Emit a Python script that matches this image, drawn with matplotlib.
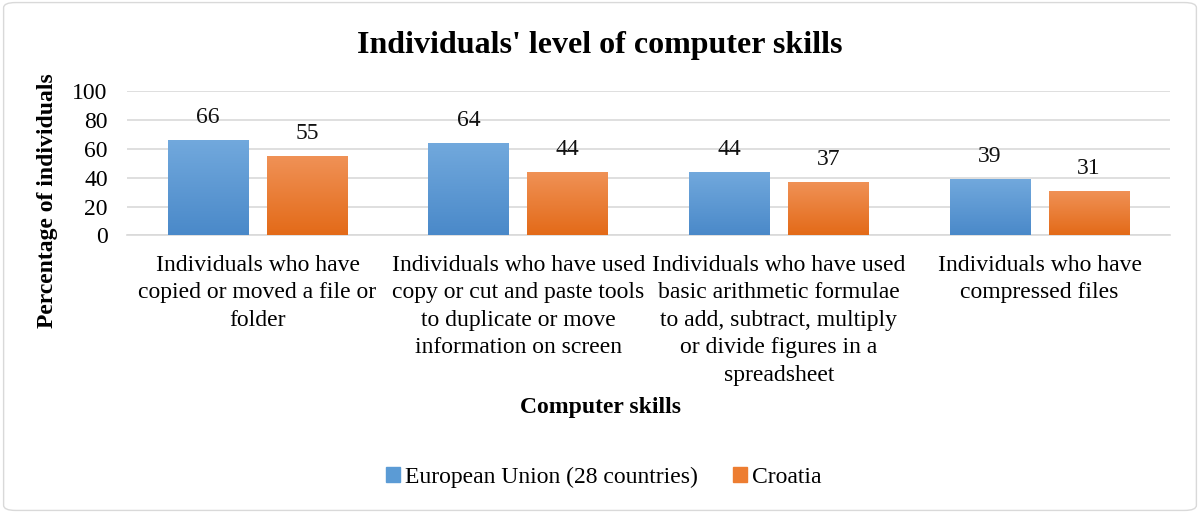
import numpy as np
import matplotlib.pyplot as plt
from matplotlib.patches import FancyBboxPatch
from matplotlib.colors import LinearSegmentedColormap

plt.rcParams['font.family'] = ['Liberation Serif', 'DejaVu Serif']

# Data
categories = [
    "Individuals who have\ncopied or moved a file or\nfolder",
    "Individuals who have used\ncopy or cut and paste tools\nto duplicate or move\ninformation on screen",
    "Individuals who have used\nbasic arithmetic formulae\nto add, subtract, multiply\nor divide figures in a\nspreadsheet",
    "Individuals who have\ncompressed files",
]
eu_values = [66, 64, 44, 39]
hr_values = [55, 44, 37, 31]
series_names = ["European Union (28 countries)", "Croatia"]
y_ticks = [0, 20, 40, 60, 80, 100]

blue_grad = LinearSegmentedColormap.from_list("b", ["#4a89c9", "#72a9dd"])
orange_grad = LinearSegmentedColormap.from_list("o", ["#e36a18", "#f09257"])


def gradient_bars(ax, bars, cmap):
    grad = np.linspace(0, 1, 256).reshape(-1, 1)
    for b in bars:
        x0, y0 = b.get_x(), b.get_y()
        w, h = b.get_width(), b.get_height()
        im = ax.imshow(grad, extent=[x0, x0 + w, y0, y0 + h], origin='lower',
                       aspect='auto', cmap=cmap, zorder=3)
        im.set_clip_path(b)


fig = plt.figure(figsize=(12, 5.13), dpi=100)
ax = fig.add_axes([0.106, 0.541, 0.869, 0.282])

x = np.arange(len(categories))
w = 0.31
off = 0.19
b1 = ax.bar(x - off, eu_values, w, color="#5b9bd5", label=series_names[0], zorder=2)
b2 = ax.bar(x + off, hr_values, w, color="#ed7d31", label=series_names[1], zorder=2)
gradient_bars(ax, b1, blue_grad)
gradient_bars(ax, b2, orange_grad)

for bars, vals in [(b1, eu_values), (b2, hr_values)]:
    for b, v in zip(bars, vals):
        ax.annotate(str(v), (b.get_x() + b.get_width() / 2, v), xytext=(0, 8.5),
                    textcoords='offset points', ha='center', va='bottom',
                    fontsize=17, color='#111111')

ax.set_xlim(-0.5, len(categories) - 0.5)
ax.set_ylim(0, 100)
ax.set_yticks(y_ticks)
ax.set_xticks(x)
ax.set_xticklabels(categories, fontsize=17, linespacing=1.4, va='top')
ax.tick_params(axis='y', labelsize=17, length=0, pad=14)
ax.tick_params(axis='x', length=0, pad=14)
ax.grid(axis='y', color='#d9d9d9', linewidth=1.2, zorder=0)
ax.set_axisbelow(True)
for s in ['top', 'right', 'left']:
    ax.spines[s].set_visible(False)
ax.spines['bottom'].set_color('#d9d9d9')
ax.spines['bottom'].set_linewidth(1.2)

fig.text(0.5, 0.912, "Individuals' level of computer skills", ha='center', va='center',
         fontsize=23, fontweight='bold')
fig.text(0.5, 0.205, "Computer skills", ha='center', va='center', fontsize=17, fontweight='bold')
fig.text(0.0395, 0.608, "Percentage of individuals", ha='center', va='center',
         rotation=90, fontsize=17, fontweight='bold')

leg = fig.legend(handles=[b1, b2], labels=series_names, loc='center', bbox_to_anchor=(0.503, 0.07),
                 ncol=2, frameon=False, fontsize=17, handlelength=0.6, handleheight=0.6,
                 handletextpad=0.2, columnspacing=1.5)
for h, c in zip(leg.legend_handles, ["#5b9bd5", "#ed7d31"]):
    h.set_color(c)

border = FancyBboxPatch((0.003, 0.005), 0.994, 0.99, boxstyle="round,pad=0,rounding_size=0.01",
                        transform=fig.transFigure, fill=False, edgecolor='#d9d9d9', linewidth=1)
fig.patches.append(border)

fig.savefig("out.png", dpi=100)
